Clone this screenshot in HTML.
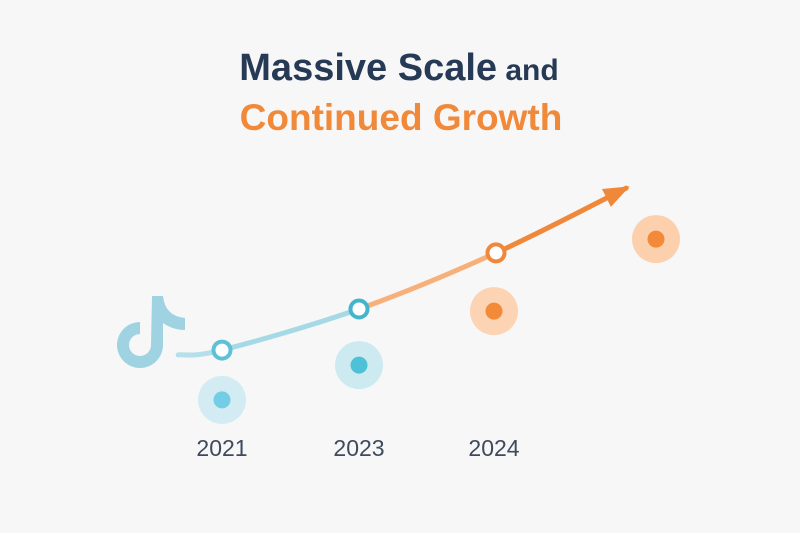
<!DOCTYPE html>
<html><head><meta charset="utf-8"><style>
html,body{margin:0;padding:0;background:#f7f7f8;}
svg{display:block;}
</style></head><body>
<svg width="800" height="533" viewBox="0 0 800 533">
<rect x="0" y="0" width="800" height="533" fill="#f7f7f8"/>
<text x="399" y="80" text-anchor="middle" font-family="Liberation Sans, sans-serif" font-weight="bold" fill="#263a55"><tspan font-size="38">Massive Scale</tspan><tspan font-size="30"> and</tspan></text>
<text x="401" y="130" text-anchor="middle" font-family="Liberation Sans, sans-serif" font-weight="bold" font-size="37" fill="#f08a3a">Continued Growth</text>
<g fill="#9fd3e2">
<path d="M152 296 h11 q2 20 22 22 v12 q-12 0 -22 -7 v22 a23 23 0 1 1 -23 -23 v12 a11 11 0 1 0 11 11 z"/>
</g>
<g id="plot"></g>
</svg>
<script>
const categories = ["2021", "2023", "2024", ""];
const lineValues = [2.33, 3.7, 5.57];
const dotValues = [0.67, 1.83, 3.63, 6.03];
const startValue = 2.17;
const endValue = 7.73;

const ns = "http://www.w3.org/2000/svg";
const plot = document.getElementById("plot");
function x(i){ return 222 + 137 * i; }
function y(v){ return 420 - 30 * v; }
function mk(tag, attrs){ const e = document.createElementNS(ns, tag); for (const k in attrs) e.setAttribute(k, attrs[k]); plot.appendChild(e); return e; }

const pts = [[x(-0.32), y(startValue)]];
lineValues.forEach((v,i)=>pts.push([x(i), y(v)]));
pts.push([x(2.95), y(endValue)]);
function seg(i){
  const p0 = pts[Math.max(i-1,0)], p1 = pts[i], p2 = pts[i+1], p3 = pts[Math.min(i+2, pts.length-1)];
  const c1 = [p1[0]+(p2[0]-p0[0])/6, p1[1]+(p2[1]-p0[1])/6];
  const c2 = [p2[0]-(p3[0]-p1[0])/6, p2[1]-(p3[1]-p1[1])/6];
  return `M${p1[0]},${p1[1]} C${c1[0]},${c1[1]} ${c2[0]},${c2[1]} ${p2[0]},${p2[1]}`;
}
const segColors = ["#b5dfea", "#a6d9e6", "#f8b07a", "#f0883a"];
for (let i = 0; i < pts.length - 1; i++) {
  const p = mk("path", {d: seg(i), stroke: segColors[i], "stroke-width": 5, fill: "none", "stroke-linecap": "round"});
  
  
}
const tip = pts[pts.length-1], prev = pts[pts.length-2];
const ang = Math.atan2(tip[1]-prev[1], tip[0]-prev[0]);
const L = 22, W = 10;
const bx = tip[0]-L*Math.cos(ang), by = tip[1]-L*Math.sin(ang);
const ah = mk("polygon", {points: `${tip[0]+4*Math.cos(ang)},${tip[1]+4*Math.sin(ang)} ${bx+W*Math.sin(ang)},${by-W*Math.cos(ang)} ${bx-W*Math.sin(ang)},${by+W*Math.cos(ang)}`, fill: "#f0883a"});



const ringColors = ["#5fc0d6", "#45b5cc", "#f0883a"];
lineValues.forEach((v,i)=>{
  const c = mk("circle", {cx: x(i), cy: y(v), r: 8.5, fill: "#ffffff", stroke: ringColors[i], "stroke-width": 4});
  
  
});
const haloColors = ["#d3ecf3", "#cdeaf1", "#fcd3b3", "#fcd0ad"];
const dotColors = ["#72cde5", "#4fc1d6", "#f28a3a", "#f28a3a"];
dotValues.forEach((v,i)=>{
  const cx = i === 3 ? x(i) + 23 : x(i) + (i===2 ? -2 : 0);
  const h = mk("circle", {cx: cx, cy: y(v), r: 24, fill: haloColors[i]});
  
  
  const d = mk("circle", {cx: cx, cy: y(v), r: 8.5, fill: dotColors[i]});
  
  
});
categories.forEach((c,i)=>{
  if (!c) return;
  const t = mk("text", {x: x(i) - (i===2 ? 2 : 0), y: 456, "text-anchor": "middle", "font-family": "Liberation Sans, sans-serif", "font-size": 23, fill: "#3f4b5c"});
  t.textContent = c;
  
  
});
</script>
</body></html>
